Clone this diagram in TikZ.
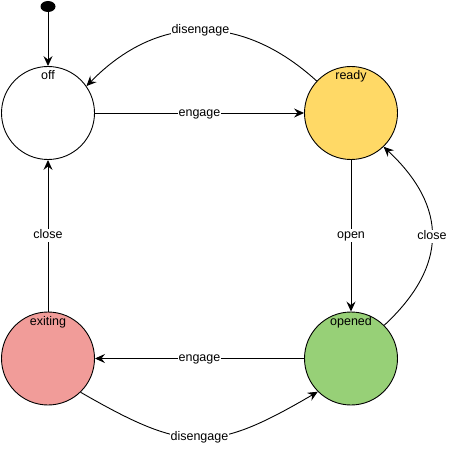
\documentclass[tikz,border=0pt]{standalone}
\usepackage{fontspec}
\setmainfont{Liberation Sans}
\usetikzlibrary{arrows.meta,shapes.geometric}
\definecolor{readyc}{HTML}{FFD966}
\definecolor{openedc}{HTML}{97D077}
\definecolor{exitc}{HTML}{F19C99}
\begin{document}
\begin{tikzpicture}[x=1pt,y=-1pt,
  state/.style={circle, draw=black, line width=0.9pt, minimum size=93pt, inner sep=0pt},
  lbl/.style={anchor=base, font=\fontsize{12.5}{14}\selectfont, inner sep=0pt},
  edge/.style={draw, line width=0.9pt, -{Stealth[length=10pt,width=9pt,inset=3.5pt]}},
  elab/.style={fill=white, font=\fontsize{12.5}{14}\selectfont, inner sep=1pt, text height=8.8pt, text depth=2.5pt}]
\useasboundingbox (0,0) rectangle (452,454);
\node[state] (off) at (48,113) {};
\node[state, fill=readyc] (ready) at (351,113) {};
\node[state, fill=openedc] (opened) at (351,358.5) {};
\node[state, fill=exitc] (exiting) at (48,358.5) {};
\node[lbl] (offl) at (48,80) {off};
\node[lbl] (readyl) at (351,80) {ready};
\node[lbl] (openedl) at (351,325.5) {opened};
\node[lbl] (exitingl) at (48,325.5) {exiting};
\node[ellipse, fill=black, minimum width=15pt, minimum height=11pt, inner sep=0pt] (init) at (48,6.5) {};
\draw[edge] (init.south) -- (off.north);
\draw[edge] (off.east) -- node[elab] {engage} (ready.west);
\draw[edge] (ready.137) .. controls (242,13) and (158,13) .. node[elab] {disengage} (off.35);
\draw[edge] (ready.south) -- node[elab] {open} (opened.north);
\draw[edge] (opened.45) .. controls (448,266) and (448,207) .. node[elab] {close} (ready.-46);
\draw[edge] (opened.west) -- node[elab] {engage} (exiting.east);
\draw[edge] (exiting.-46) .. controls (186,453) and (213,453) .. node[elab] {disengage} (opened.-135);
\draw[edge] (exiting.north) -- node[elab] {close} (off.south);
\end{tikzpicture}
\end{document}
